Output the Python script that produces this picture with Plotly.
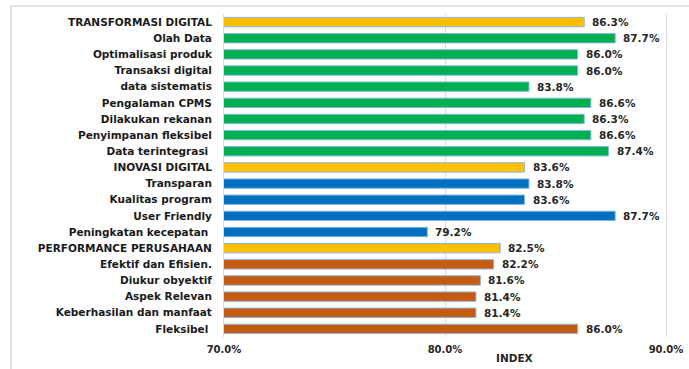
import plotly.graph_objects as go

# Survey index per item (percent), listed top to bottom
categories = [
    "TRANSFORMASI DIGITAL", "Olah Data", "Optimalisasi produk", "Transaksi digital",
    "data sistematis", "Pengalaman CPMS", "Dilakukan rekanan", "Penyimpanan fleksibel",
    "Data terintegrasi ", "INOVASI DIGITAL", "Transparan", "Kualitas program",
    "User Friendly", "Peningkatan kecepatan ", "PERFORMANCE PERUSAHAAN",
    "Efektif dan Efisien.", "Diukur obyektif", "Aspek Relevan",
    "Keberhasilan dan manfaat", "Fleksibel ",
]
values = [
    86.3, 87.7, 86.0, 86.0, 83.8, 86.6, 86.3, 86.6, 87.4,
    83.6, 83.8, 83.6, 87.7, 79.2,
    82.5, 82.2, 81.6, 81.4, 81.4, 86.0,
]
groups = [
    "header", "td", "td", "td", "td", "td", "td", "td", "td",
    "header", "id", "id", "id", "id",
    "header", "pp", "pp", "pp", "pp", "pp",
]
tick_values = [70, 80, 90]
tick_labels = ["70.0%", "80.0%", "90.0%"]

palette = {"header": "#FFC000", "td": "#00B050", "id": "#0070C0", "pp": "#C55A11"}
colors = [palette[g] for g in groups]

W, H = 689, 369
ML, MR, MT, MB = 224, 23, 14, 32
font_family = "DejaVu Sans, Verdana, sans-serif"
text_color = "#262626"

fig = go.Figure(
    go.Bar(
        y=categories,
        x=values,
        base=0,
        orientation="h",
        marker=dict(color=colors, line=dict(color="#8DB4E2", width=1)),
        width=0.58,
        hoverinfo="skip",
    )
)

# value labels to the right of each bar
for cat, v in zip(categories, values):
    fig.add_annotation(
        x=v, y=cat, xref="x", yref="y",
        text=f"<b>{v:.1f}%</b>", showarrow=False,
        xanchor="left", yanchor="middle", xshift=6,
        font=dict(size=10.5, color=text_color, family=font_family),
    )

plot_w = W - ML - MR
plot_h = H - MT - MB


def px_to_paper_x(px):
    return (px - ML) / plot_w


def px_to_paper_y(py):
    return (H - MB - py) / plot_h


# outer frame lines (top and left)
fig.add_shape(type="line", xref="paper", yref="paper",
              x0=px_to_paper_x(11), x1=px_to_paper_x(689),
              y0=px_to_paper_y(6), y1=px_to_paper_y(6),
              line=dict(color="#D9D9D9", width=1.5))
fig.add_shape(type="line", xref="paper", yref="paper",
              x0=px_to_paper_x(11), x1=px_to_paper_x(11),
              y0=px_to_paper_y(6), y1=px_to_paper_y(369),
              line=dict(color="#D9D9D9", width=1.5))

fig.add_annotation(
    text="<b>INDEX</b>", xref="paper", yref="paper",
    x=px_to_paper_x(514), y=px_to_paper_y(358),
    showarrow=False, xanchor="center", yanchor="middle",
    font=dict(size=10.5, color=text_color, family=font_family),
)

fig.update_layout(
    width=W, height=H,
    margin=dict(l=ML, r=MR, t=MT, b=MB, autoexpand=False),
    paper_bgcolor="white", plot_bgcolor="white",
    showlegend=False,
    xaxis=dict(
        range=[70, 90],
        tickvals=tick_values, ticktext=[f"<b>{t}</b>" for t in tick_labels],
        tickfont=dict(size=10, color=text_color, family=font_family),
        showgrid=True, gridcolor="#D9D9D9", gridwidth=1,
        zeroline=False, showline=False,
        ticks="outside", ticklen=3, tickcolor="rgba(0,0,0,0)",
        automargin=False,
        fixedrange=True,
    ),
    yaxis=dict(
        categoryorder="array", categoryarray=categories,
        autorange="reversed",
        tickvals=categories,
        ticktext=[f"<b>{c}</b>" for c in categories],
        tickfont=dict(size=10.5, color="#1a1a1a", family=font_family),
        showgrid=False, zeroline=False,
        showline=True, mirror=True, linecolor="#D9D9D9", linewidth=1,
        ticks="outside", ticklen=9, tickcolor="rgba(0,0,0,0)",
        automargin=False,
        fixedrange=True,
    ),
)

fig.write_html("out.html")
